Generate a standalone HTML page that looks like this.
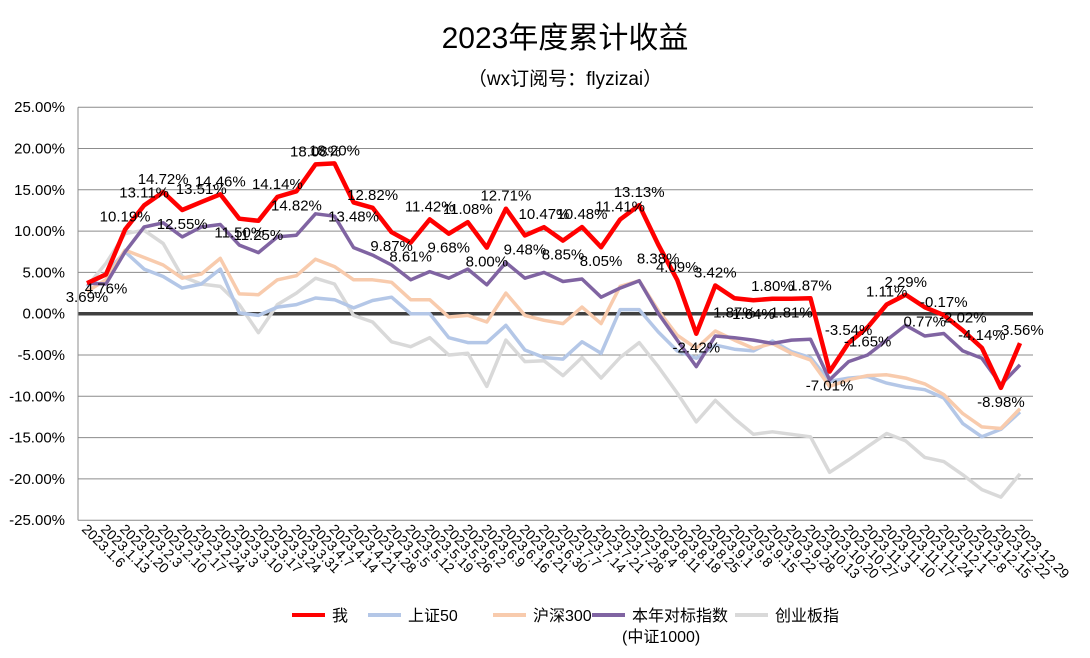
<!DOCTYPE html>
<html><head><meta charset="utf-8">
<style>
body{margin:0;background:#fff;}
svg text{font-family:"Liberation Sans","Noto Sans CJK SC",sans-serif;}
</style></head>
<body>
<svg id="chart" width="1090" height="653" viewBox="0 0 1090 653" xmlns="http://www.w3.org/2000/svg">
<rect width="1090" height="653" fill="#fff"/>
<text x="565" y="48" font-size="30" text-anchor="middle" fill="#000">2023年度累计收益</text>
<text x="565" y="85" font-size="19" text-anchor="middle" fill="#000">（wx订阅号：flyzizai）</text>
<g id="grid"></g>
<g id="yticks"></g>
<g id="xticks"></g>
<g id="series"></g>
<g id="labels"></g>
<g id="legend">
  <line x1="292" y1="615" x2="325" y2="615" stroke="#ff0000" stroke-width="4"/>
  <text x="332" y="621" font-size="16">我</text>
  <line x1="368" y1="615" x2="401" y2="615" stroke="#b4c7e7" stroke-width="4"/>
  <text x="408" y="621" font-size="16">上证50</text>
  <line x1="493" y1="615" x2="526" y2="615" stroke="#f8cbad" stroke-width="4"/>
  <text x="533" y="621" font-size="16">沪深300</text>
  <line x1="592" y1="615" x2="625" y2="615" stroke="#8064a2" stroke-width="4"/>
  <text x="632" y="621" font-size="16">本年对标指数</text>
  <text x="622" y="642" font-size="16">(中证1000)</text>
  <line x1="735" y1="615" x2="768" y2="615" stroke="#d9d9d9" stroke-width="4"/>
  <text x="775" y="621" font-size="16">创业板指</text>
</g>
</svg>
<script>
const dates = ["2023.1.6","2023.1.13","2023.1.20","2023.2.3","2023.2.10","2023.2.17","2023.2.24","2023.3.3","2023.3.10","2023.3.17","2023.3.24","2023.3.31","2023.4.7","2023.4.14","2023.4.21","2023.4.28","2023.5.5","2023.5.12","2023.5.19","2023.5.26","2023.6.2","2023.6.9","2023.6.16","2023.6.21","2023.6.30","2023.7.7","2023.7.14","2023.7.21","2023.7.28","2023.8.4","2023.8.11","2023.8.18","2023.8.25","2023.9.1","2023.9.8","2023.9.15","2023.9.22","2023.9.28","2023.10.13","2023.10.20","2023.10.27","2023.11.3","2023.11.10","2023.11.17","2023.11.24","2023.12.1","2023.12.8","2023.12.15","2023.12.22","2023.12.29"];
const meValues = [3.69,4.76,10.19,13.11,14.72,12.55,13.51,14.46,11.50,11.25,14.14,14.82,18.08,18.20,13.48,12.82,9.87,8.61,11.42,9.68,11.08,8.00,12.71,9.48,10.47,8.85,10.48,8.05,11.41,13.13,8.38,4.09,-2.42,3.42,1.87,1.64,1.80,1.81,1.87,-7.01,-3.54,-1.65,1.11,2.29,0.77,-0.17,-2.02,-4.14,-8.98,-3.56];
const sz50Values = [3.3,4.9,7.5,5.4,4.5,3.1,3.6,5.4,0.1,-0.2,0.8,1.1,1.9,1.7,0.7,1.6,2.0,0.0,0.0,-2.9,-3.5,-3.5,-1.4,-4.4,-5.3,-5.5,-3.4,-4.8,0.5,0.5,-2.2,-4.5,-5.4,-3.8,-4.3,-4.5,-3.3,-4.6,-5.3,-8.2,-7.8,-7.6,-8.4,-8.9,-9.2,-10.2,-13.3,-14.9,-14.0,-11.9];
const hs300Values = [2.7,4.1,7.7,6.8,5.9,4.3,4.8,6.7,2.4,2.3,4.1,4.6,6.6,5.7,4.1,4.1,3.8,1.7,1.7,-0.4,-0.2,-1.0,2.5,-0.2,-0.8,-1.2,0.8,-1.2,3.3,4.0,0.4,-2.6,-4.2,-2.1,-3.2,-4.2,-3.6,-4.8,-5.6,-8.8,-8.0,-7.5,-7.4,-7.8,-8.5,-9.8,-12.1,-13.7,-13.9,-11.5];
const benchValues = [3.7,3.6,7.5,10.5,11.0,9.3,10.5,10.8,8.3,7.4,9.3,9.5,12.1,11.8,8.0,7.1,5.9,4.1,5.1,4.3,5.4,3.5,6.2,4.3,5.0,3.9,4.2,2.0,3.1,4.0,0.05,-3.2,-6.4,-2.7,-2.9,-3.2,-3.6,-3.2,-3.1,-8.0,-5.8,-5.0,-3.2,-1.4,-2.7,-2.4,-4.5,-5.4,-8.6,-6.2];
const chinextValues = [3.3,6.1,9.7,10.1,8.5,4.5,3.6,3.3,1.1,-2.3,1.1,2.5,4.3,3.6,-0.2,-1.0,-3.4,-4.0,-2.9,-5.0,-4.8,-8.8,-3.2,-5.8,-5.7,-7.5,-5.3,-7.8,-5.3,-3.5,-6.4,-9.6,-13.1,-10.5,-12.7,-14.6,-14.3,-14.6,-14.9,-19.2,-17.7,-16.1,-14.5,-15.4,-17.4,-17.9,-19.5,-21.3,-22.2,-19.4];
const yTicks = [25,20,15,10,5,0,-5,-10,-15,-20,-25];

const NS = "http://www.w3.org/2000/svg";
const X0 = 87, XSTEP = 19.04, Y0 = 313.7, YPER = 8.26;
function xPos(i){ return X0 + i*XSTEP; }
function yPos(v){ return Y0 - v*YPER; }
function mk(tag, attrs, parent){
  const e = document.createElementNS(NS, tag);
  for (const k in attrs) e.setAttribute(k, attrs[k]);
  parent.appendChild(e);
  return e;
}
const grid = document.getElementById('grid');
const yt = document.getElementById('yticks');
yTicks.forEach(t => {
  const y = yPos(t);
  const l = mk('line', {x1:78, x2:1033, y1:y, y2:y, stroke: t===0 ? '#404040' : '#8c8c8c', 'stroke-width': t===0 ? 3.5 : 1}, grid);
  
  
  const tx = mk('text', {x:65, y:y+5, 'font-size':15, 'text-anchor':'end', fill:'#000'}, yt);
  tx.textContent = t.toFixed(2) + '%';
  
  
});
const ax = mk('line', {x1:78, x2:78, y1:yPos(25), y2:yPos(-25), stroke:'#8c8c8c', 'stroke-width':1}, grid);



const xt = document.getElementById('xticks');
dates.forEach((d, i) => {
  const x = xPos(i) - 6;
  const tx = mk('text', {x:x, y:530, 'font-size':14, fill:'#000', transform:`rotate(45 ${x} 530)`}, xt);
  tx.textContent = d;
  
  
});

const sg = document.getElementById('series');
function drawLine(vals, color, w, name){
  const pts = vals.map((v, i) => xPos(i).toFixed(1) + ',' + yPos(v).toFixed(1)).join(' ');
  const p = mk('polyline', {points:pts, fill:'none', stroke:color, 'stroke-width':w, 'stroke-linejoin':'round'}, sg);
  
  
}
drawLine(chinextValues, '#d9d9d9', 3.5, 'chinext-line');
drawLine(sz50Values, '#b4c7e7', 3.5, 'sz50-line');
drawLine(hs300Values, '#f8cbad', 3.5, 'hs300-line');
drawLine(benchValues, '#8064a2', 3.5, 'benchmark-line');
drawLine(meValues, '#ff0000', 4.5, 'me-line');

const lg = document.getElementById('labels');
meValues.forEach((v, i) => {
  const prev = i > 0 ? meValues[i-1] : v;
  const next = i < meValues.length-1 ? meValues[i+1] : v;
  const above = v >= (prev + next) / 2;
  const y = above ? yPos(v) - 8 : yPos(v) + 19;
  const tx = mk('text', {x:xPos(i), y:y, 'font-size':15, 'text-anchor':'middle', fill:'#000'}, lg);
  tx.textContent = v.toFixed(2) + '%';
  
  
});
</script>
</body></html>
